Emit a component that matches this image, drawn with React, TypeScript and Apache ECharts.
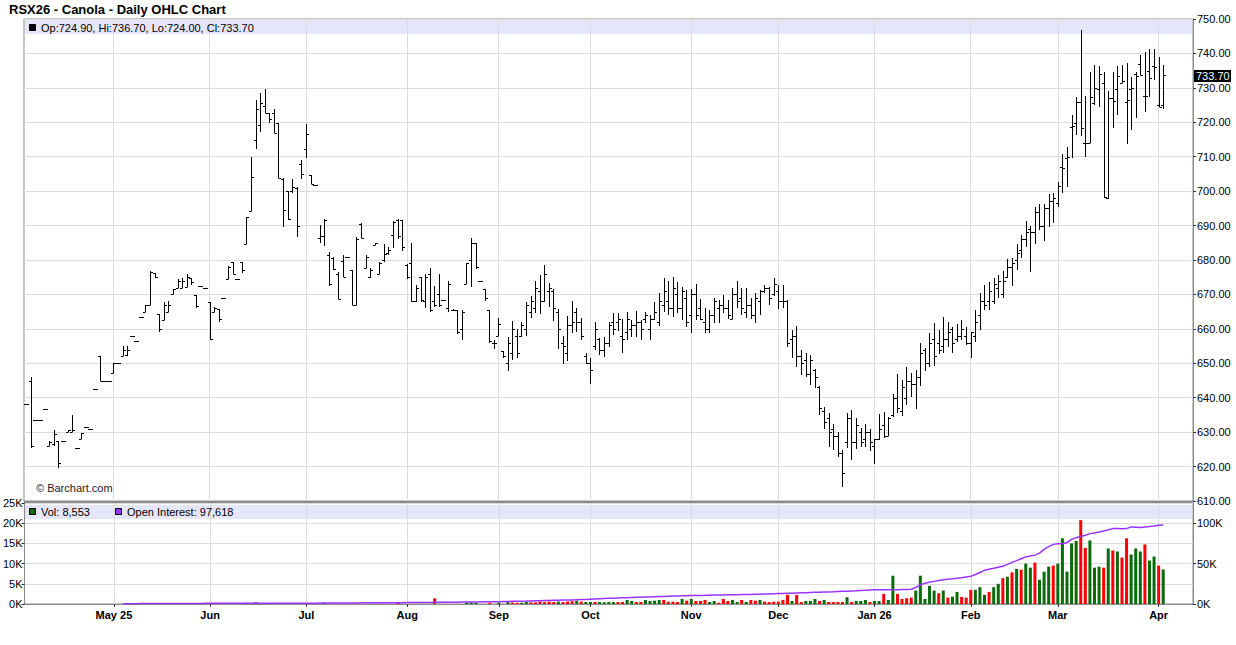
import React, { useEffect, useRef } from 'react';
import * as echarts from 'echarts';

const TITLE = 'RSX26 - Canola - Daily OHLC Chart';
const WATERMARK = '\u00a9 Barchart.com';
const START_DATE = '2025-04-03';
const HOLIDAYS = ['2025-04-18', '2025-05-19', '2025-07-01', '2025-08-04', '2025-09-01', '2025-09-30', '2025-10-13', '2025-11-11', '2025-12-25', '2025-12-26', '2026-01-01', '2026-02-16', '2026-04-03'];
const CATEGORY_COUNT = 255;
const MONTH_TICK_LABELS = ['May 25', 'Jun', 'Jul', 'Aug', 'Sep', 'Oct', 'Nov', 'Dec', 'Jan 26', 'Feb', 'Mar', 'Apr'];
const PRICE_MIN = 610;
const PRICE_MAX = 750;
const PRICE_STEP = 10;
const VOL_MAX = 25000;
const VOL_STEP = 5000;
const OI_MAX = 125000;
const OI_STEP = 50000;

// [open, high, low, close] per trading day
const OHLC: number[][] = [
  [638.3, 638.3, 638.3, 638.3], [645, 646.1, 625.3, 626], [633.6, 633.6, 633.6, 633.6], [633.6, 633.6, 633.6, 633.6], [636.8, 636.8, 636.8, 636.8],
  [626, 627.3, 625.9, 627], [626.5, 630.5, 625.9, 629.5], [627.3, 627.3, 619.6, 621], [627.3, 627.3, 627.3, 627.3], [630, 630.5, 630, 630.5],
  [630, 635, 630, 630.5], [625.3, 625.3, 625.3, 625.3], [628, 629.7, 628, 629.7], [631.4, 631.4, 631.4, 631.4], [631, 631, 631, 631],
  [642.6, 642.6, 642.6, 642.6], [652, 652, 644.8, 644.8], [644.8, 644.8, 644.8, 644.8], [644.8, 644.8, 644.8, 644.8], [647.3, 650, 647.3, 650],
  [650, 650, 650, 650], [652, 655, 652, 654], [652.5, 655, 652, 654], [658, 658, 658, 658], [656.5, 656.5, 656.5, 656.5],
  [663.5, 663.5, 663.5, 663.5], [665, 667, 665, 667], [667, 676.8, 667, 676.5], [676.3, 676.3, 674.8, 675], [664.3, 664.3, 659, 660],
  [662.5, 667.8, 662.5, 667], [665, 668, 665, 667], [670, 671.5, 670, 671.5], [672, 674.6, 672, 674], [672, 674.8, 672, 674],
  [672.3, 676, 672.3, 675], [674.8, 674.8, 672.7, 673.5], [669.8, 669.8, 666.2, 666.5], [672.4, 672.4, 672.4, 672.4], [671.8, 671.8, 671.8, 671.8],
  [667.7, 667.7, 656.8, 657], [665, 666.4, 664.8, 666], [665.8, 665.8, 662, 663], [668.9, 668.9, 668.9, 668.9], [674.4, 678.3, 674.4, 678],
  [679.5, 679.5, 675.8, 676], [674.4, 674.4, 674.4, 674.4], [679.5, 679.5, 676.1, 677], [684.6, 692.4, 684.6, 692.4], [694.2, 709.8, 694.2, 704.2],
  [715, 726.5, 712.2, 723.8], [719.2, 728.4, 717.1, 725.7], [724.7, 729.6, 722.6, 722.6], [722.6, 722.6, 719.7, 721], [722.6, 723.9, 716.8, 716.8],
  [719.7, 719.7, 703.7, 703.7], [703.5, 703.7, 689.7, 694.5], [700, 700, 691.6, 692], [700, 703.4, 699.6, 701.1], [701, 701.3, 686.8, 690],
  [708, 709, 703.5, 705], [712.2, 719.4, 709.7, 716.6], [704.7, 704.7, 702, 702], [701.8, 701.8, 701.8, 701.8], [686.5, 690.2, 685, 687],
  [687, 691.9, 684.2, 691.5], [681.5, 682.2, 672.4, 673], [680.5, 680.8, 677.1, 677.5], [676, 676.4, 668.6, 668.6], [679.7, 681.5, 675, 675],
  [680.8, 680.8, 680.8, 680.8], [677, 677.1, 666.9, 667], [667, 686.6, 666.9, 686], [690.5, 690.7, 686.3, 686.5], [677.6, 681.5, 677.6, 681],
  [675, 677.6, 674.7, 677], [684.4, 685, 684.4, 685], [676, 679.5, 675.8, 679], [680, 684.7, 679.5, 681.7], [682, 683.7, 681.5, 683],
  [687.3, 691.4, 683.4, 691], [691.5, 691.9, 686, 687], [691.6, 691.6, 682.6, 683.9], [678.5, 678.8, 674.4, 675], [679, 685, 667.7, 668],
  [668, 672.7, 667.9, 672], [675, 675, 667.9, 668.5], [668, 676, 666, 675], [676, 677.6, 664.8, 665.5], [668, 672.4, 666.4, 667],
  [670, 676, 666.4, 667], [668.4, 668.4, 668.4, 668.4], [666, 674, 664.8, 673], [665.5, 665.8, 665.2, 665.5], [665.5, 665.5, 658.4, 659],
  [660, 665.5, 656.8, 665], [672.9, 679.2, 672.9, 679], [680, 686.5, 672.1, 685], [685, 685, 677.3, 678], [673.9, 673.9, 673.9, 673.9],
  [671.5, 671.5, 668.1, 669], [665.5, 665.5, 656, 656.5], [656, 656.8, 654.1, 656], [658, 663.1, 657.9, 661.4], [653.6, 653.6, 651.4, 652],
  [650, 657.5, 647.9, 656], [653, 662.3, 651, 660], [658, 659.9, 651.4, 653], [658, 662.1, 657.7, 661], [660, 667.9, 657.9, 667],
  [665, 669.5, 663.1, 668], [666, 673.9, 664.5, 672], [671, 675.6, 664.2, 668], [668, 678.6, 667.9, 676], [671, 673.2, 666.4, 672],
  [671, 671.5, 662.3, 666], [665, 665.7, 654.2, 660], [656, 657.9, 649.7, 655], [653, 663.7, 650.7, 661], [661, 668.1, 658.7, 662],
  [665, 666, 659, 662], [662, 663.1, 656.8, 658], [652, 653.1, 649.7, 650], [650, 651.4, 643.9, 648], [655, 661.9, 653.9, 660],
  [657, 657.3, 652.4, 654], [654, 657.5, 651.9, 656], [656, 662.1, 654.8, 661], [662, 664.5, 658.2, 660], [662, 664.7, 659.5, 663],
  [658, 662.8, 652.9, 657], [659, 665, 656.8, 663], [660, 662.6, 657.5, 661], [661, 665.3, 657.5, 662], [662, 662.6, 656.8, 660],
  [663, 665, 661.8, 664], [660, 664, 656.8, 663], [663, 667.7, 662.6, 665], [662, 670.5, 660.8, 668], [667, 674.7, 665, 671],
  [668, 673.9, 664, 666], [666, 675.2, 663.5, 672], [670, 673.7, 664.5, 666], [666, 672.3, 662.6, 671], [669, 671.3, 660.6, 662],
  [664, 671.6, 658.7, 670], [670, 673, 662.6, 664], [666, 668.7, 662.6, 663], [662, 666, 658.7, 660], [660, 665.5, 658.7, 664],
  [664, 668.9, 661.6, 668], [666, 668.4, 661.6, 667], [667, 669.8, 664.5, 666], [666, 668.4, 662.8, 664], [663, 671.8, 662.8, 670],
  [670, 673.9, 666, 668], [669, 671.8, 664, 666], [665, 671.8, 663.1, 667], [667, 668.9, 662.8, 664], [664, 670.3, 661.6, 669],
  [668, 671.3, 664, 671], [671, 672.7, 670.5, 672], [672, 672.1, 666.9, 669], [670, 674.7, 669.5, 673], [671, 672.7, 665.7, 668],
  [668, 672.7, 666, 668], [668, 668.4, 654.6, 656], [657, 659.7, 651.4, 658], [658, 660.8, 648.8, 652], [652, 653.9, 646.6, 650],
  [651, 652.9, 645.9, 647], [647, 652.4, 643.7, 651], [648, 648.3, 642.7, 646], [643, 643.4, 635, 637], [636, 637.4, 630.8, 633],
  [634, 635.6, 625.8, 630], [631, 632.3, 624.8, 629], [629, 629.9, 622.9, 624], [624, 624.9, 614.2, 618], [627, 635.7, 625.3, 634],
  [634, 636.4, 621.9, 627], [627, 634, 625, 632], [630, 631.1, 625.6, 627], [628, 632.4, 625.8, 630], [630, 630.9, 624.6, 627],
  [626, 628, 620.7, 627.9], [628, 635.2, 627.7, 631], [632, 635.8, 628.4, 629], [629, 634.5, 628.9, 634], [635, 641, 634.5, 640],
  [640, 646.9, 635.5, 637], [636, 645.1, 634.8, 643], [640, 649, 637.9, 645], [645, 647.1, 640.3, 644], [644, 648.1, 636.7, 646],
  [646, 655.8, 643.4, 653], [654, 654.4, 647.9, 650], [650, 658.7, 648.8, 656], [657, 661.8, 649.3, 652], [656, 659.7, 652.7, 654],
  [655, 663.4, 652.9, 657], [657, 661.9, 654.6, 659], [660, 660.6, 652.9, 656], [657, 661.4, 656.3, 658], [658, 662.6, 656.8, 660],
  [658, 660.5, 655.3, 656], [656, 659.2, 651.6, 659], [658, 665.5, 656.3, 662], [664, 670.5, 659.7, 668], [668, 672.7, 665.5, 667],
  [668, 673.5, 665.5, 671], [668, 674.9, 667.1, 673], [672, 675.5, 669.1, 674], [670, 676.8, 669.1, 674], [675, 680.2, 674.7, 678],
  [678, 680.7, 672.5, 679], [680, 684.7, 677.1, 682], [683, 687.3, 680.5, 686], [686, 691.4, 683.9, 688], [689, 689.9, 676.6, 688],
  [688, 695.5, 684.6, 694], [694, 696.3, 688.6, 690], [690, 696.3, 685.6, 695], [695, 699.2, 689.7, 697], [697, 699.4, 690.7, 698],
  [696.6, 702.7, 695.5, 701.5], [707, 710.8, 699.4, 706.6], [709.7, 712.9, 701.3, 710], [718.5, 722.1, 709.5, 719], [719.7, 727.3, 716.3, 726],
  [726, 746.8, 716.1, 718.3], [713.9, 727.5, 709.8, 714], [714, 734.7, 713.9, 727.3], [725.5, 736.6, 725, 730], [729.6, 736.3, 724.5, 734],
  [731.3, 734.7, 697.9, 698.4], [698, 729.2, 697.6, 727], [727, 734.7, 718.3, 726.2], [729.7, 736.3, 722.1, 733.3], [731.3, 736.6, 731.3, 732],
  [726, 737.1, 713.7, 726.5], [729.6, 733.1, 717.8, 730], [734, 734.5, 721.3, 733.5], [736.8, 739.5, 733.7, 733.7], [727.6, 740.3, 723.1, 727.6],
  [735, 741.2, 727.4, 733], [736.3, 741.2, 732.3, 736], [725, 738.9, 724.4, 724.5], [724.9, 736.7, 724, 733.7],
];

const VOLUME: number[] = [
  0, 0, 0, 0, 0, 0, 0, 0, 0, 0,
  0, 0, 0, 0, 0, 0, 0, 0, 0, 0,
  0, 0, 0, 0, 0, 0, 0, 0, 0, 0,
  0, 250, 0, 0, 250, 0, 0, 0, 0, 0,
  0, 0, 0, 0, 0, 0, 0, 0, 300, 0,
  450, 250, 0, 250, 0, 0, 250, 250, 0, 250,
  0, 0, 0, 0, 0, 300, 0, 0, 0, 0,
  0, 0, 0, 0, 0, 0, 0, 0, 0, 0,
  0, 250, 0, 0, 0, 0, 0, 0, 0, 1400,
  0, 0, 0, 0, 0, 0, 400, 400, 300, 0,
  0, 300, 0, 300, 0, 750, 400, 300, 300, 500,
  400, 400, 600, 500, 600, 500, 600, 500, 600, 700,
  800, 600, 500, 500, 500, 500, 420, 500, 500, 500,
  500, 1000, 750, 500, 500, 1000, 750, 830, 1000, 1000,
  580, 580, 500, 1250, 830, 1250, 750, 750, 1000, 500,
  750, 330, 1250, 750, 1000, 500, 1000, 500, 1000, 830,
  1000, 580, 500, 580, 580, 1000, 2250, 750, 2250, 500,
  750, 750, 1250, 750, 1000, 500, 500, 500, 500, 1670,
  500, 750, 750, 1000, 500, 750, 750, 2500, 1000, 7000,
  2500, 1250, 1420, 1580, 3330, 7000, 1250, 4500, 3330, 2670,
  3330, 1580, 1830, 3000, 1750, 1580, 3500, 3500, 4170, 2250,
  3000, 4170, 5000, 6420, 6750, 7830, 8670, 8500, 10000, 9000,
  10250, 6000, 8000, 9250, 9500, 10000, 16250, 8000, 15000, 15600,
  20750, 13900, 15750, 9000, 9250, 9000, 13750, 13250, 13000, 11500,
  16250, 12250, 13750, 13000, 14750, 10750, 11750, 9500, 8553,
];

// G = up day (green), R = down day (red), - = no volume
const VOLUME_DIRECTION = [
  '----------', '----------', '----------', '-G--G-----', '--------G-',
  'GG-R--RR-R', '-----G----', '----------', '-R-------R', '------GGG-',
  '-R-G-GRRGG', 'RRRRRRGRRR', 'GRGGRGGGGR', 'RGGRRGGGGR', 'RRRGRGRRRG',
  'GRRRGGRGRR', 'GRRRRRRGRR', 'GGGRGRRRRG', 'RGGGRGGRGG', 'RRRRGGGGGR',
  'GRGGRRRGGG', 'RGGRGRGRGG', 'RGGGRGGGGG', 'RRGGGRGRGR', 'RGGGRGGRG',
].join('');

const OI_START_INDEX = 21;
// open interest, thousands of contracts
const OPEN_INTEREST_K: number[] = [
  0.4, 0.4, 0.45, 0.45, 0.5, 0.5, 0.55, 0.55, 0.6, 0.6, 0.65, 0.65, 0.7, 0.7, 0.7, 0.75, 0.75, 0.75, 0.8, 0.8,
  0.8, 0.8, 0.85, 0.85, 0.85, 0.85, 0.9, 0.9, 0.9, 0.9, 0.9, 0.95, 0.95, 0.95, 0.95, 1.0, 1.0, 1.0, 1.0, 1.0, 1.0,
  1.0, 1.05, 1.1, 1.1, 1.15, 1.2, 1.2, 1.25, 1.3, 1.3, 1.35, 1.4, 1.4, 1.45, 1.5, 1.5, 1.55, 1.6, 1.6, 1.65, 1.7,
  1.75, 1.8, 1.85, 1.9, 1.95, 2.0, 2.1, 2.1, 2.2, 2.2, 2.3, 2.3, 2.4, 2.4, 2.5, 2.5, 2.6, 2.7, 2.7, 2.8, 2.9,
  3.0, 3.1, 3.3, 3.4, 3.5, 3.6, 3.8, 3.9, 4.0, 4.2, 4.3, 4.5, 4.6, 4.8, 4.9, 5.1, 5.3, 5.5, 5.7, 6.0, 6.3, 6.6,
  6.8, 7.0, 7.2, 7.4, 7.6, 7.8, 8.0, 8.2, 8.4, 8.6, 8.8, 9.0, 9.2, 9.4, 9.6, 9.8, 10.0, 10.1, 10.3, 10.4,
  10.5, 10.6, 10.7, 10.9, 11.0, 11.1, 11.2, 11.3, 11.4, 11.6, 11.7, 11.8, 11.9, 12.1, 12.2, 12.4, 12.5, 12.7, 12.9,
  13.0, 13.2, 13.4, 13.6, 13.8, 14.0, 14.2, 14.4, 14.6, 14.8, 15.0, 15.2, 15.5, 15.7, 15.9, 16.2, 16.4, 16.7, 16.9, 17.2, 17.5,
  17.5, 17.5, 17.6, 17.6, 17.7, 17.8, 17.9, 18.3,
  20.5, 23.5, 25.8,
  27, 28, 29, 30, 30.6, 31.2, 31.9, 32.6, 33.4, 34.2,
  36.5, 39, 41.7, 43, 44.2, 45.5, 46.7,
  49, 51.5, 53.7, 56, 58.3,
  59.3, 60.5, 63, 67.5,
  71, 73.8, 74.5, 74.6, 76,
  80, 82.1, 83.5, 85, 87.1, 88,
  89, 90.4, 92, 93.3, 93.3, 93.2, 93.3,
  95.4, 95, 94.6, 95.4, 95.8, 96.5, 97.5, 97.618,
];

const FONT = '"Liberation Sans", Arial, Helvetica, sans-serif';
const UP_COLOR = '#0b6b0b';
const DOWN_COLOR = '#ff0000';
const OI_COLOR = '#9933ff';
const GRID_LINE = '#dcdcdc';
const BAND = '#e6e6fa';
const FRAME = '#8c8c8c';

const fmt2 = (v: number) => v.toFixed(2);

function buildDates(): string[] {
  const hol = new Set(HOLIDAYS);
  const out: string[] = [];
  const d = new Date(START_DATE + 'T00:00:00Z');
  while (out.length < CATEGORY_COUNT) {
    const day = d.getUTCDay();
    const iso = d.toISOString().slice(0, 10);
    if (day !== 0 && day !== 6 && !hol.has(iso)) out.push(iso);
    d.setUTCDate(d.getUTCDate() + 1);
  }
  return out;
}

function buildGraphic(lastPriceY: number | null) {
  const last = OHLC[OHLC.length - 1];
  const lastVol = VOLUME[VOLUME.length - 1];
  const lastOi = Math.round(OPEN_INTEREST_K[OPEN_INTEREST_K.length - 1] * 1000);
  const els: any[] = [
    { type: 'text', x: 9, y: 9, z: 10, style: { text: TITLE, font: `bold 13px ${FONT}`, fill: '#000', verticalAlign: 'middle' } },
    { type: 'rect', x: 25, y: 20, z: -5, shape: { width: 1167, height: 14 }, style: { fill: BAND } },
    { type: 'rect', x: 29.5, y: 24.5, z: 10, shape: { width: 6, height: 6 }, style: { fill: '#000', stroke: '#000', lineWidth: 1 } },
    {
      type: 'text', x: 41, y: 27.5, z: 10,
      style: { text: `Op:${fmt2(last[0])}, Hi:${fmt2(last[1])}, Lo:${fmt2(last[2])}, Cl:${fmt2(last[3])}`, font: `11px ${FONT}`, fill: '#000', verticalAlign: 'middle' },
    },
    { type: 'text', x: 36, y: 488, z: 10, style: { text: WATERMARK, font: `11px ${FONT}`, fill: '#222', verticalAlign: 'middle' } },
    { type: 'rect', x: 24, y: 501, z: 10, shape: { width: 1169, height: 2 }, style: { fill: FRAME } },
    { type: 'rect', x: 25, y: 505, z: -5, shape: { width: 1167, height: 14 }, style: { fill: BAND } },
    { type: 'rect', x: 29.5, y: 508.5, z: 10, shape: { width: 6, height: 6 }, style: { fill: UP_COLOR, stroke: '#000', lineWidth: 1 } },
    {
      type: 'text', x: 41, y: 512, z: 10,
      style: { text: `Vol: ${lastVol.toLocaleString('en-US')}`, font: `11px ${FONT}`, fill: '#000', verticalAlign: 'middle' },
    },
    { type: 'rect', x: 115.5, y: 508.5, z: 10, shape: { width: 6, height: 6 }, style: { fill: OI_COLOR, stroke: '#000', lineWidth: 1 } },
    {
      type: 'text', x: 127, y: 512, z: 10,
      style: { text: `Open Interest: ${lastOi.toLocaleString('en-US')}`, font: `11px ${FONT}`, fill: '#000', verticalAlign: 'middle' },
    },
  ];
  if (lastPriceY !== null && isFinite(lastPriceY)) {
    els.push({
      type: 'group', x: 1194, y: Math.round(lastPriceY), z: 20,
      children: [
        { type: 'rect', x: 0, y: -5, z: 20, shape: { width: 37, height: 12 }, style: { fill: '#000' } },
        { type: 'text', x: 2, y: 1, z: 21, style: { text: fmt2(last[3]), font: `11px ${FONT}`, fill: '#fff', verticalAlign: 'middle' } },
      ],
    });
  }
  return els;
}

function buildOption() {
  const dates = buildDates();
  const monthStart: Record<number, string> = {};
  let k = 0;
  for (let i = 1; i < dates.length; i++) {
    if (dates[i].slice(0, 7) !== dates[i - 1].slice(0, 7) && k < MONTH_TICK_LABELS.length) {
      monthStart[i] = MONTH_TICK_LABELS[k++];
    }
  }
  const isMonth = (idx: number) => monthStart[idx] !== undefined;

  const ohlcData = OHLC.map((d, i) => [i, d[0], d[1], d[2], d[3]]);
  const volData = VOLUME.map((v, i) => ({
    value: v,
    itemStyle: { color: VOLUME_DIRECTION[i] === 'R' ? DOWN_COLOR : UP_COLOR },
  }));
  const oiData: (number | null)[] = [];
  for (let i = 0; i < OHLC.length; i++) {
    const j = i - OI_START_INDEX;
    oiData.push(j >= 0 && j < OPEN_INTEREST_K.length ? OPEN_INTEREST_K[j] * 1000 : null);
  }

  const axisText = { fontFamily: FONT, fontSize: 11, color: '#000' };

  return {
    animation: false,
    backgroundColor: '#fff',
    textStyle: { fontFamily: FONT },
    grid: [
      { left: 24, top: 19, width: 1169, height: 482, show: true, borderColor: FRAME, borderWidth: 1, backgroundColor: 'transparent' },
      { left: 24, top: 503, width: 1169, height: 101, show: true, borderColor: FRAME, borderWidth: 1, backgroundColor: 'transparent' },
    ],
    xAxis: [
      {
        type: 'category', gridIndex: 0, data: dates, boundaryGap: true,
        axisLine: { show: false }, axisTick: { show: false }, axisLabel: { show: false },
        splitLine: { show: true, interval: (i: number) => isMonth(i), alignWithLabel: true, lineStyle: { color: GRID_LINE, width: 1 } },
      },
      {
        type: 'category', gridIndex: 1, data: dates, boundaryGap: true,
        axisLine: { show: true, lineStyle: { color: FRAME } },
        axisTick: { show: true, interval: (i: number) => isMonth(i), alignWithLabel: true, length: 3, lineStyle: { color: '#333' } },
        axisLabel: {
          show: true, interval: (i: number) => isMonth(i), margin: 5,
          formatter: (_v: string, i: number) => monthStart[i] || '',
          ...axisText, fontWeight: 'bold',
        },
        splitLine: { show: true, interval: (i: number) => isMonth(i), alignWithLabel: true, lineStyle: { color: GRID_LINE, width: 1 } },
      },
    ],
    yAxis: [
      {
        type: 'value', gridIndex: 0, position: 'right', min: PRICE_MIN, max: PRICE_MAX, interval: PRICE_STEP,
        axisLine: { show: true, lineStyle: { color: FRAME } },
        axisTick: { show: true, length: 3, lineStyle: { color: '#333' } },
        axisLabel: { ...axisText, margin: 4, formatter: (v: number) => fmt2(v) },
        splitLine: { show: true, lineStyle: { color: GRID_LINE, width: 1 } },
      },
      {
        type: 'value', gridIndex: 1, position: 'left', min: 0, max: VOL_MAX, interval: VOL_STEP,
        axisLine: { show: true, lineStyle: { color: FRAME } },
        axisTick: { show: true, length: 3, lineStyle: { color: '#333' } },
        axisLabel: { ...axisText, margin: 2, formatter: (v: number) => `${v / 1000}K` },
        splitLine: { show: true, lineStyle: { color: GRID_LINE, width: 1 } },
      },
      {
        type: 'value', gridIndex: 1, position: 'right', min: 0, max: OI_MAX, interval: OI_STEP,
        axisLine: { show: true, lineStyle: { color: FRAME } },
        axisTick: { show: true, length: 3, lineStyle: { color: '#333' } },
        axisLabel: { ...axisText, margin: 4, showMaxLabel: false, formatter: (v: number) => `${v / 1000}K` },
        splitLine: { show: false },
      },
    ],
    series: [
      {
        type: 'custom', name: 'OHLC', xAxisIndex: 0, yAxisIndex: 0, clip: true, z: 5,
        encode: { x: 0, y: [1, 2, 3, 4] },
        data: ohlcData,
        renderItem: (_p: any, api: any) => {
          const idx = api.value(0);
          const po = api.coord([idx, api.value(1)]);
          const ph = api.coord([idx, api.value(2)]);
          const pl = api.coord([idx, api.value(3)]);
          const pc = api.coord([idx, api.value(4)]);
          const x = Math.round(ph[0]) + 0.5;
          const yh = Math.round(ph[1]);
          const yl = Math.max(Math.round(pl[1]), yh + 1);
          const yo = Math.round(po[1]) + 0.5;
          const yc = Math.round(pc[1]) + 0.5;
          const style = { stroke: '#000', lineWidth: 1 };
          return {
            type: 'group',
            children: [
              { type: 'line', shape: { x1: x, y1: yh, x2: x, y2: yl }, style },
              { type: 'line', shape: { x1: x - 2.5, y1: yo, x2: x, y2: yo }, style },
              { type: 'line', shape: { x1: x, y1: yc, x2: x + 2.5, y2: yc }, style },
            ],
          };
        },
      },
      {
        type: 'bar', name: 'Vol', xAxisIndex: 1, yAxisIndex: 1, barWidth: 3, z: 3,
        data: volData,
      },
      {
        type: 'line', name: 'Open Interest', xAxisIndex: 1, yAxisIndex: 2, z: 4,
        showSymbol: false, symbol: 'none', connectNulls: false,
        lineStyle: { color: OI_COLOR, width: 1.5 },
        data: oiData,
      },
    ],
    graphic: buildGraphic(null),
  };
}

export default function App() {
  const ref = useRef<HTMLDivElement>(null);
  useEffect(() => {
    if (!ref.current) return;
    const chart = echarts.init(ref.current, undefined, { renderer: 'svg' });
    chart.setOption(buildOption() as any);
    const lastClose = OHLC[OHLC.length - 1][3];
    const y = chart.convertToPixel({ yAxisIndex: 0 } as any, lastClose) as unknown as number;
    chart.setOption({ graphic: buildGraphic(y) } as any, { replaceMerge: ['graphic'] } as any);
    return () => chart.dispose();
  }, []);
  return (
    <div
      ref={ref}
      style={{ position: 'absolute', left: 0, top: 0, width: 1236, height: 645, background: '#fff' }}
    />
  );
}
